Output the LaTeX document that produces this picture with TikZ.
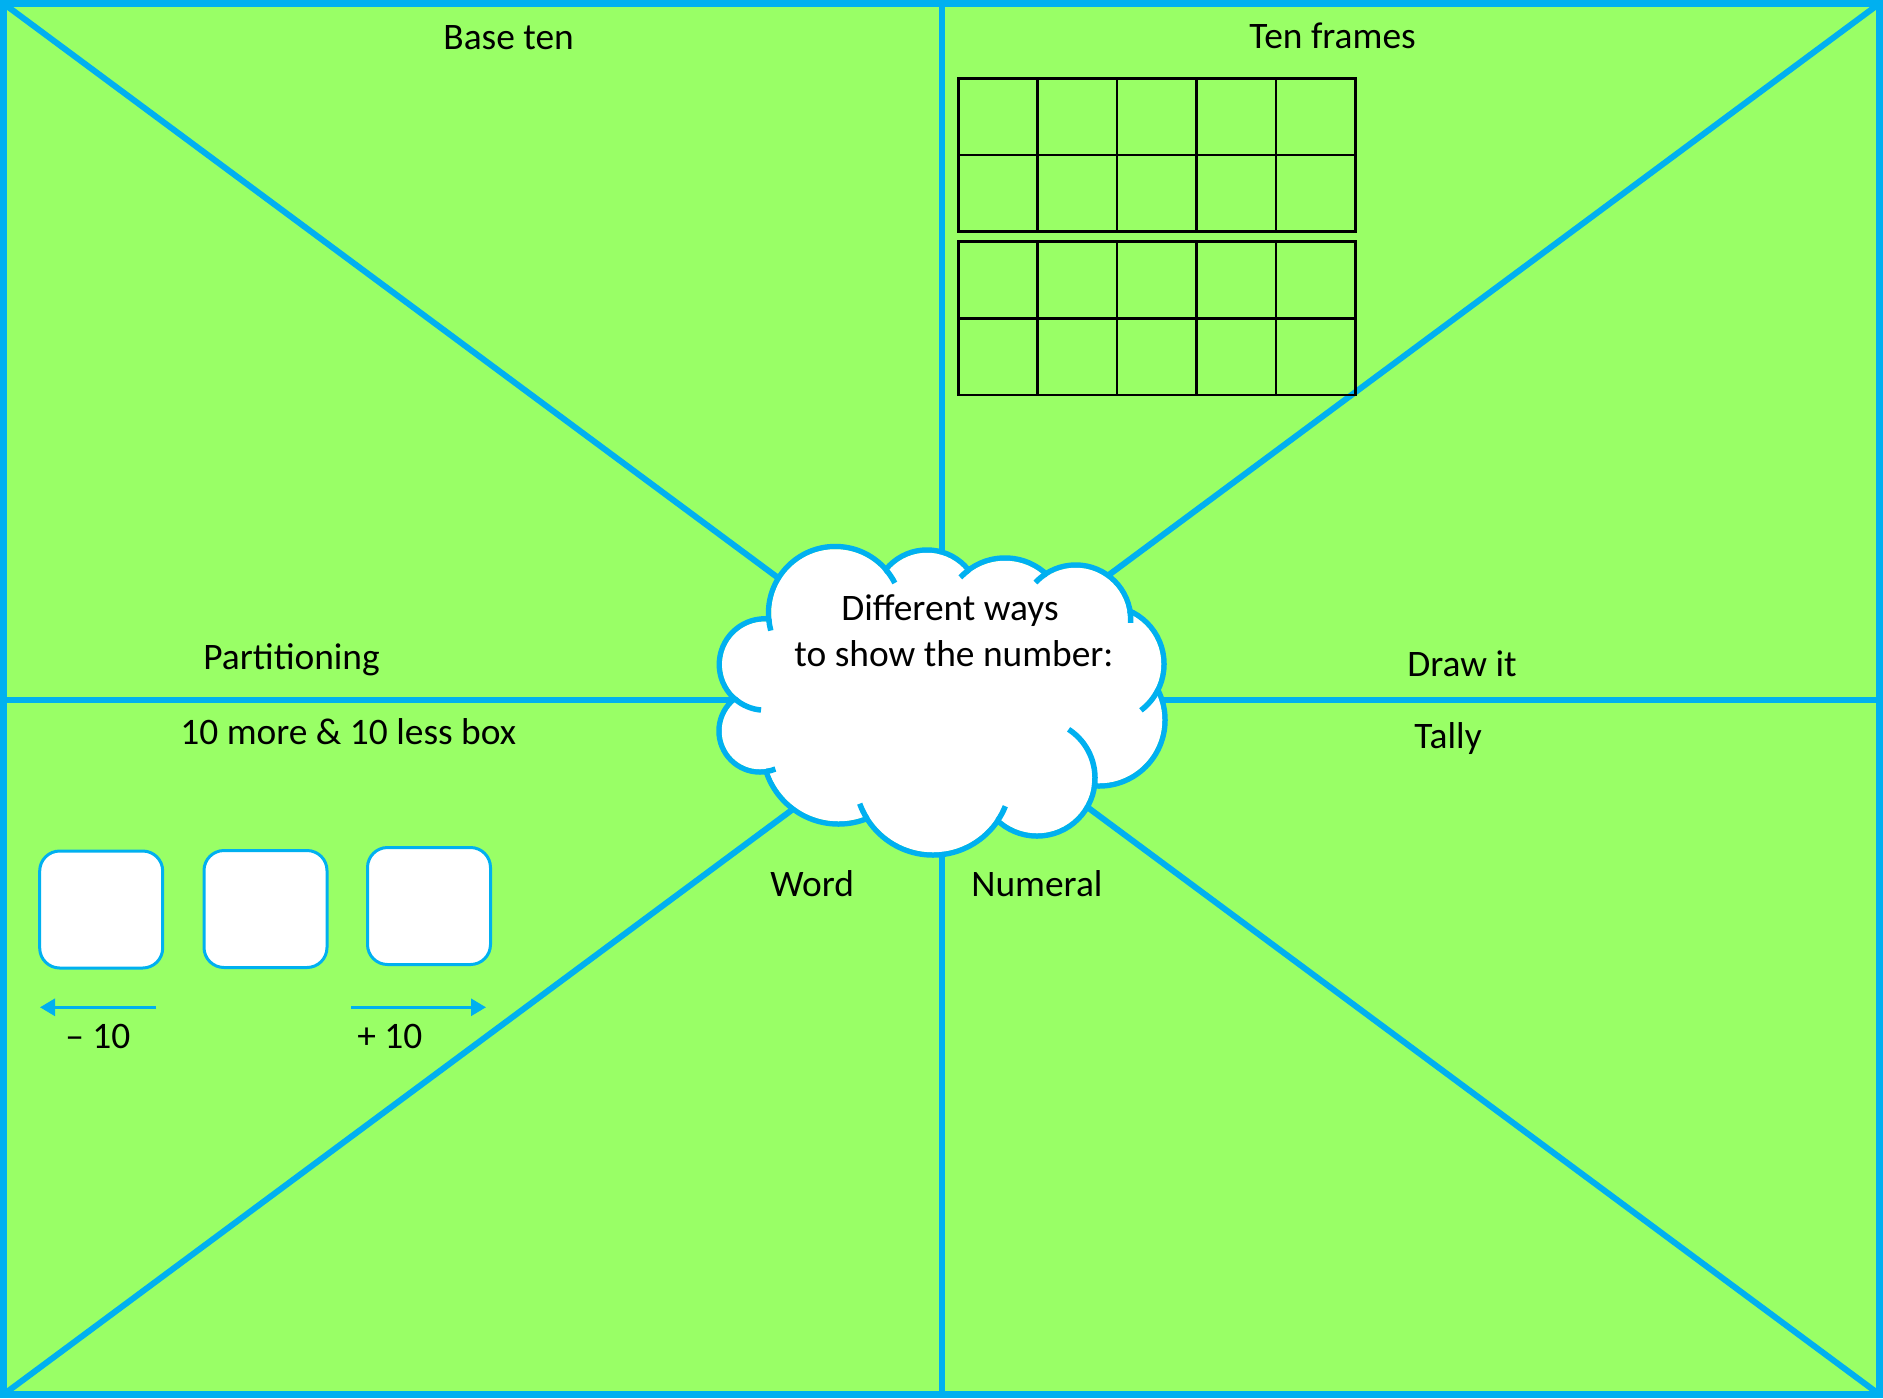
\documentclass[tikz,border=0pt]{standalone}
\usepackage{fontspec}
\setmainfont{Carlito}
\usetikzlibrary{arrows.meta}
\definecolor{bg}{HTML}{99FF66}
\definecolor{ln}{HTML}{00B0F0}
\tikzset{
  lbl/.style={anchor=base west, inner sep=0pt, font=\fontsize{18.7}{22}\selectfont},
  cloudtxt/.style={anchor=base, inner sep=0pt, font=\fontsize{18.7}{22}\selectfont},
  sect/.style={draw=ln, line width=3pt},
  cloudline/.style={draw=ln, line width=2.75pt},
  numbox/.style={draw=ln, fill=white, line width=1.5pt, rounded corners=10pt,
    minimum width=61.5pt, minimum height=58.5pt, inner sep=0pt},
  tenarrow/.style={draw=ln, line width=1.5pt, -{Triangle[length=7.5pt,width=8.5pt]}},
  gridline/.style={draw=black, line width=1.35pt},
}
\begin{document}
\begin{tikzpicture}[x=0.5pt,y=-0.5pt]
\fill[bg] (0,0) rectangle (1883,1398);
\useasboundingbox (0,0) rectangle (1883,1398);

\coordinate (TL) at (3.5,3.5);
\coordinate (TR) at (1879.5,3.5);
\coordinate (BL) at (3.5,1394.5);
\coordinate (BR) at (1879.5,1394.5);
\coordinate (TM) at (941.5,3.5);
\coordinate (BM) at (941.5,1394.5);
\coordinate (LM) at (3.5,699.5);
\coordinate (RM) at (1879.5,699.5);

\draw[sect] (TL) -- (BR);
\draw[sect] (TR) -- (BL);
\draw[sect] (TM) -- (BM);
\draw[sect] (LM) -- (RM);
\draw[ln, line width=3.5pt] (TL) rectangle (BR);

% ten frames
\draw[gridline] (958.3,78.3) rectangle (1355.7,231.7);
\draw[gridline] (958.3,155) -- (1355.7,155);
\draw[gridline] (958.3,241.7) rectangle (1355.7,395);
\draw[gridline] (958.3,318.3) -- (1355.7,318.3);
\foreach \cx in {1037.7,1117,1196.7,1276}{
  \draw[gridline] (\cx,78.3) -- (\cx,231.7);
  \draw[gridline] (\cx,241.7) -- (\cx,395);
}

% cloud: union of puffs
\coordinate (cLU) at (765,664.5);
\coordinate (cTL) at (835.3,613.3);
\coordinate (cTM) at (927,603);
\coordinate (cTR) at (1005,619);
\coordinate (cRT) at (1075.7,620);
\coordinate (cRU) at (1106,664);
\coordinate (cRL) at (1099,720);
\coordinate (cBR) at (1037,778);
\coordinate (cBC) at (933,777);
\coordinate (cBL) at (838.5,748);
\coordinate (cLL) at (760,731);
\foreach \cx/\cy/\r in {765/664.5/45.7, 835.3/613.3/66.8, 927/603/53, 1005/619/61,
  1075.7/620/55, 1106/664/58, 1099/720/66, 1037/778/58, 933/777/78, 838.5/748/76, 760/731/41}{
  \draw[cloudline] (\cx,\cy) circle[radius=\r];
}
\foreach \cx/\cy/\r in {765/664.5/45.7, 835.3/613.3/66.8, 927/603/53, 1005/619/61,
  1075.7/620/55, 1106/664/58, 1099/720/66, 1037/778/58, 933/777/78, 838.5/748/76, 760/731/41}{
  \fill[white] (\cx,\cy) circle[radius={\r-2.75}];
}
\fill[white] (cLU) -- (cTL) -- (cTM) -- (cTR) -- (cRT) -- (cRU) -- (cRL) -- (cBR)
  -- (cBC) -- (cBL) -- (cLL) -- cycle;
% inner arcs
\draw[cloudline] (cLU) ++(131.4:45.7) arc[start angle=131.4, end angle=95, radius=45.7];
\draw[cloudline] (cLL) ++(81.3:41) arc[start angle=81.3, end angle=68, radius=41];
\draw[cloudline] (cBC) ++(147.9:78) arc[start angle=147.9, end angle=160, radius=78];
\draw[cloudline] (cBC) ++(33.7:78) arc[start angle=33.7, end angle=22, radius=78];
\draw[cloudline] (cBR) ++(7.8:58) arc[start angle=7.8, end angle=-57, radius=58];
\draw[cloudline] (cRU) ++(26.7:58) arc[start angle=26.7, end angle=53, radius=58];
\draw[cloudline] (cRT) ++(-9.2:55) arc[start angle=-9.2, end angle=3, radius=55];
\draw[cloudline] (cRT) ++(-122.7:55) arc[start angle=-122.7, end angle=-137, radius=55];
\draw[cloudline] (cTR) ++(-126.7:61) arc[start angle=-126.7, end angle=-137, radius=61];
\draw[cloudline] (cTL) ++(-40.9:66.8) arc[start angle=-40.9, end angle=-27, radius=66.8];
\draw[cloudline] (cTL) ++(175.1:66.8) arc[start angle=175.1, end angle=165, radius=66.8];

\node[cloudtxt] (ct1) at (950,620.5) {Different ways};
\node[cloudtxt] (ct2) at (954,666) {to show the number:};

% labels
\node[lbl] (baseten) at (443,49.5) {Base ten};
\node[lbl] (tenframes) at (1249,48) {Ten frames};
\node[lbl] (partition) at (203,669.5) {Partitioning};
\node[lbl] (morelss) at (180,744) {10 more \& 10 less box};
\node[lbl] (drawit) at (1407,676.5) {Draw it};
\node[lbl] (tally) at (1414,748.5) {Tally};
\node[lbl] (word) at (770,896.5) {Word};
\node[lbl] (numeral) at (971,896.5) {Numeral};

% boxes
\node[numbox] (box1) at (101.2,909.5) {};
\node[numbox] (box2) at (265.5,909) {};
\node[numbox] (box3) at (429,906) {};

% arrows
\coordinate (lstart) at (156,1007.3);
\coordinate (lend) at (40,1007.3);
\coordinate (rstart) at (351,1007.3);
\coordinate (rend) at (486,1007.3);
\draw[tenarrow] (lstart) -- (lend);
\draw[tenarrow] (rstart) -- (rend);
\node[lbl] (minus) at (65,1048.5) {– 10};
\node[lbl] (plus) at (357,1048.5) {+ 10};
\end{tikzpicture}
\end{document}
